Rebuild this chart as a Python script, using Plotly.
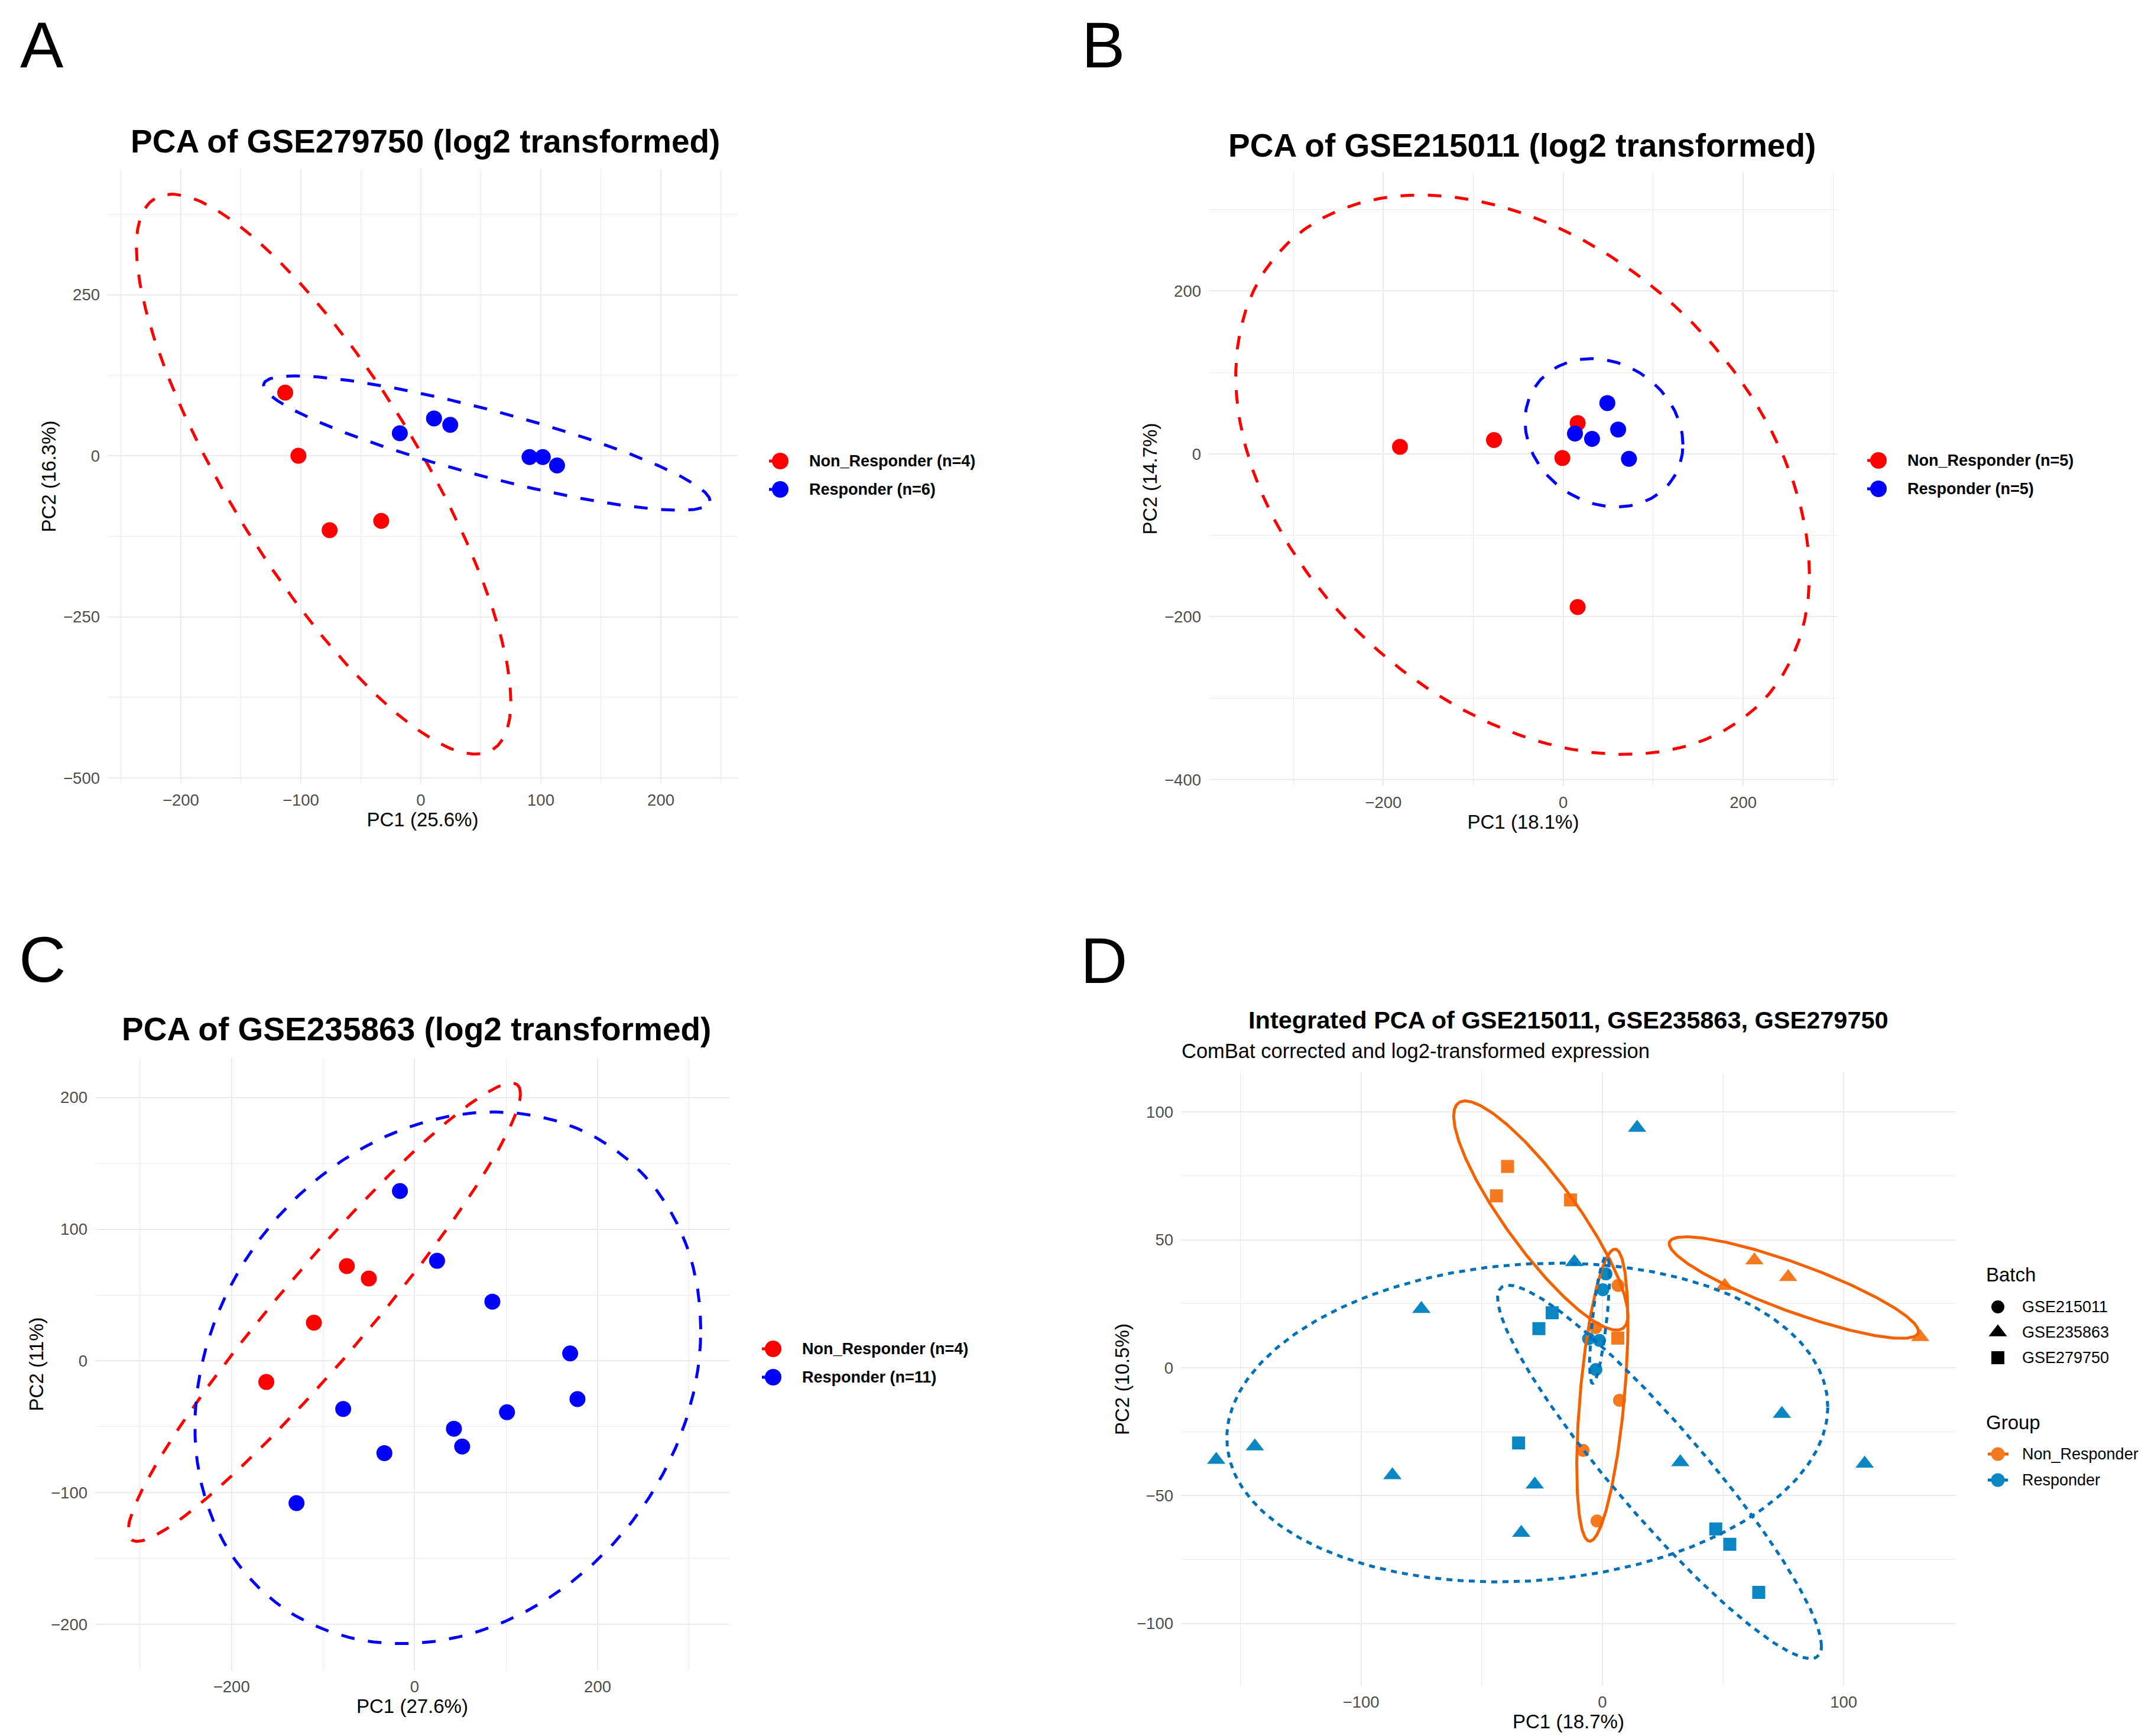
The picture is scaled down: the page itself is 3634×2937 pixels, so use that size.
import numpy as np
import plotly.graph_objects as go

W, H = 3634, 2937
FONT = "Liberation Sans"
GRID = "#EBEBEB"

# ---------------- Panel A : GSE279750 ----------------
a_title = "PCA of GSE279750 (log2 transformed)"
a_xlabel = "PC1 (25.6%)"
a_ylabel = "PC2 (16.3%)"
a_labels = ["Non_Responder (n=4)", "Responder (n=6)"]
a_nr_pc1 = [-113, -102, -76, -33]
a_nr_pc2 = [98, 0, -115.5, -101]
a_r_pc1 = [-17.5, 11, 24.5, 90.6, 101.6, 113.5]
a_r_pc2 = [35, 58, 48, -2, -2, -15]
# ellipse extents: xmin, xmax, ymin, ymax, y at xmax
a_nr_ell = [-237, 75, -463, 406, -381]
a_r_ell = [-131, 241, -84.5, 124, -70]

# ---------------- Panel B : GSE215011 ----------------
b_title = "PCA of GSE215011 (log2 transformed)"
b_xlabel = "PC1 (18.1%)"
b_ylabel = "PC2 (14.7%)"
b_labels = ["Non_Responder (n=5)", "Responder (n=5)"]
b_nr_pc1 = [-181.5, -77, -1, 16, 16]
b_nr_pc2 = [8.7, 17, -5, 38, -188]
b_r_pc1 = [49, 61, 13, 32, 73]
b_r_pc2 = [62.5, 30, 25, 18.5, -6]
b_nr_ell = [-364, 273.6, -369, 318, -147.5]
b_r_ell = [-42.5, 133, -65, 117, 11.6]

# ---------------- Panel C : GSE235863 ----------------
c_title = "PCA of GSE235863 (log2 transformed)"
c_xlabel = "PC1 (27.6%)"
c_ylabel = "PC2 (11%)"
c_labels = ["Non_Responder (n=4)", "Responder (n=11)"]
c_nr_pc1 = [-74, -50, -110, -162]
c_nr_pc2 = [72, 62.6, 29, -16]
c_r_pc1 = [-16, 24.6, 85, 170, 178, 101, 43, 52, -33, -78, -129]
c_r_pc2 = [129, 76, 45, 5.7, -29, -39, -51.5, -65, -70, -36.5, -108]
c_nr_ell = [-313, 115.7, -137, 211, 203]
c_r_ell = [-240, 312.7, -214.7, 189, 24]

# ---------------- Panel D : integrated ----------------
d_title = "Integrated PCA of GSE215011, GSE235863, GSE279750"
d_subtitle = "ComBat corrected and log2-transformed expression"
d_xlabel = "PC1 (18.7%)"
d_ylabel = "PC2 (10.5%)"
d_batches = ["GSE215011", "GSE235863", "GSE279750"]
d_groups = ["Non_Responder", "Responder"]
d_nr_215011_pc1 = [6.5, -2.8, 7.1, -8.0, -2.2]
d_nr_215011_pc2 = [32.2, 15.7, -12.7, -32.3, -59.9]
d_r_215011_pc1 = [1.5, 0.2, -5.7, -1.2, -2.7]
d_r_215011_pc2 = [36.7, 30.5, 11.4, 10.7, -0.7]
d_nr_235863_pc1 = [50.7, 63, 77, 131.7]
d_nr_235863_pc2 = [32, 42, 35.5, 12]
d_r_235863_pc1 = [14.4, -11.6, -75, -144, -160, -87, -28, -33.6, 32.3, 74.4, 108.7]
d_r_235863_pc2 = [93.8, 41.3, 23, -30.7, -36, -42, -45.6, -64.5, -36.9, -18, -37.5]
d_nr_279750_pc1 = [-39.3, -43.9, -13.2, 6.4]
d_nr_279750_pc2 = [78.7, 67.2, 65.6, 11.6]
d_r_279750_pc1 = [-20.8, -26.3, -34.7, 47, 52.8, 64.8]
d_r_279750_pc2 = [21.5, 15.3, -29.4, -63, -69, -87.8]
d_nr_215011_ell = [-10.6, 10.6, -67.8, 46.4, 17.4]
d_r_215011_ell = [-5.3, 3.0, -6.1, 43.7, 36]
d_nr_235863_ell = [27.7, 131, 11.5, 51.2, 14.2]
d_r_235863_ell = [-155.6, 93.4, -83.7, 40.9, -15.3]
d_nr_279750_ell = [-61.6, 10.6, 14.7, 104.3, 20.6]
d_r_279750_ell = [-43.4, 90.8, -113.7, 32.3, -108.7]

# ---------------- styles ----------------
RED, BLUE = "#FF0000", "#0000FF"
OR_LINE, OR_PT = "#F46200", "#F57A1F"
BL_LINE, BL_PT = "#0071B9", "#0A87C2"
DASH_ABC = "23px,23px"
DOT_D = "10px,9px"
SYMBOLS = ["circle", "triangle-up", "square"]
SYM_SIZE = [22, 27, 22]


def px_x(p):
    return p / W


def px_y(p):
    return 1 - p / H


def ellipse(ext, n=361):
    xmin, xmax, ymin, ymax, yx = ext
    cx, rx = (xmin + xmax) / 2, (xmax - xmin) / 2
    cy, ry = (ymin + ymax) / 2, (ymax - ymin) / 2
    phi = np.arccos(np.clip((yx - cy) / ry, -1, 1))
    t = np.linspace(0, 2 * np.pi, n)
    return cx + rx * np.cos(t), cy + ry * np.cos(t - phi)


fig = go.Figure()


def add_simple(k, nr_x, nr_y, r_x, r_y, nr_ell, r_ell):
    xa, ya = ("x", "y") if k == 1 else (f"x{k}", f"y{k}")
    for xs, ys, col in [(nr_x, nr_y, RED), (r_x, r_y, BLUE)]:
        fig.add_trace(go.Scatter(x=xs, y=ys, mode="markers", xaxis=xa, yaxis=ya,
                                 marker=dict(color=col, size=27, line=dict(width=0)),
                                 showlegend=False, hoverinfo="skip"))
    for ext, col in [(nr_ell, RED), (r_ell, BLUE)]:
        ex, ey = ellipse(ext)
        fig.add_trace(go.Scatter(x=ex, y=ey, mode="lines", xaxis=xa, yaxis=ya,
                                 line=dict(color=col, width=5, dash=DASH_ABC),
                                 showlegend=False, hoverinfo="skip"))


add_simple(1, a_nr_pc1, a_nr_pc2, a_r_pc1, a_r_pc2, a_nr_ell, a_r_ell)
add_simple(2, b_nr_pc1, b_nr_pc2, b_r_pc1, b_r_pc2, b_nr_ell, b_r_ell)
add_simple(3, c_nr_pc1, c_nr_pc2, c_r_pc1, c_r_pc2, c_nr_ell, c_r_ell)

# Panel D points
d_pts = [
    (d_nr_215011_pc1, d_nr_215011_pc2, 0, OR_PT),
    (d_r_215011_pc1, d_r_215011_pc2, 0, BL_PT),
    (d_nr_235863_pc1, d_nr_235863_pc2, 1, OR_PT),
    (d_r_235863_pc1, d_r_235863_pc2, 1, BL_PT),
    (d_nr_279750_pc1, d_nr_279750_pc2, 2, OR_PT),
    (d_r_279750_pc1, d_r_279750_pc2, 2, BL_PT),
]
for xs, ys, bi, col in d_pts:
    fig.add_trace(go.Scatter(x=xs, y=ys, mode="markers", xaxis="x4", yaxis="y4",
                             marker=dict(color=col, size=SYM_SIZE[bi], symbol=SYMBOLS[bi],
                                         line=dict(width=0)),
                             showlegend=False, hoverinfo="skip"))
d_ells = [
    (d_nr_215011_ell, OR_LINE, "solid"), (d_nr_235863_ell, OR_LINE, "solid"),
    (d_nr_279750_ell, OR_LINE, "solid"), (d_r_215011_ell, BL_LINE, DOT_D),
    (d_r_235863_ell, BL_LINE, DOT_D), (d_r_279750_ell, BL_LINE, DOT_D),
]
for ext, col, dash in d_ells:
    ex, ey = ellipse(ext)
    fig.add_trace(go.Scatter(x=ex, y=ey, mode="lines", xaxis="x4", yaxis="y4",
                             line=dict(color=col, width=5, dash=dash),
                             showlegend=False, hoverinfo="skip"))

# ---------------- legends (drawn on an overlay pixel axis) ----------------
annotations = []


def ann(text, x, y, size, bold=False, xanchor="center", color="black", angle=0):
    annotations.append(dict(text=text, x=px_x(x), y=px_y(y), xref="paper", yref="paper",
                            xanchor=xanchor, yanchor="middle", showarrow=False, textangle=angle,
                            font=dict(family=FONT, size=size, color=color,
                                      weight="bold" if bold else "normal")))


def simple_legend(labels, kx, ky, step=48):
    for i, (lab, col) in enumerate(zip(labels, [RED, BLUE])):
        y = ky + i * step
        fig.add_trace(go.Scatter(x=[kx - 19, kx + 19], y=[y, y], mode="lines",
                                 xaxis="x5", yaxis="y5",
                                 line=dict(color=col, width=5, dash=DASH_ABC),
                                 showlegend=False, hoverinfo="skip"))
        fig.add_trace(go.Scatter(x=[kx], y=[y], mode="markers", xaxis="x5", yaxis="y5",
                                 marker=dict(color=col, size=28, line=dict(width=0)),
                                 showlegend=False, hoverinfo="skip"))
        ann(lab, kx + 47, y, 27, bold=True, xanchor="left")


simple_legend(a_labels, 1312, 772)
simple_legend(b_labels, 3170, 771)
simple_legend(c_labels, 1300, 2274)

# Panel D legends
ann("Batch", 3350, 2148, 33, xanchor="left")
for i, lab in enumerate(d_batches):
    y = 2203 + i * 43
    fig.add_trace(go.Scatter(x=[3372], y=[y], mode="markers", xaxis="x5", yaxis="y5",
                             marker=dict(color="black", size=SYM_SIZE[i], symbol=SYMBOLS[i],
                                         line=dict(width=0)),
                             showlegend=False, hoverinfo="skip"))
    ann(lab, 3411, y, 27, xanchor="left")
ann("Group", 3350, 2398, 33, xanchor="left")
for i, (lab, lc, pc, dash) in enumerate(zip(d_groups, [OR_LINE, BL_LINE], [OR_PT, BL_PT],
                                          ["solid", "6px,22px"])):
    y = 2452 + i * 44
    fig.add_trace(go.Scatter(x=[3355, 3390], y=[y, y], mode="lines", xaxis="x5", yaxis="y5",
                             line=dict(color=lc, width=5, dash=dash),
                             showlegend=False, hoverinfo="skip"))
    fig.add_trace(go.Scatter(x=[3372], y=[y], mode="markers", xaxis="x5", yaxis="y5",
                             marker=dict(color=pc, size=23, line=dict(width=0)),
                             showlegend=False, hoverinfo="skip"))
    ann(lab, 3411, y, 27, xanchor="left")

# ---------------- titles and panel letters ----------------
ann(a_title, 711, 231, 55, bold=True)
ann(b_title, 2567, 238, 55, bold=True)
ann(c_title, 696, 1733, 55, bold=True)
ann(d_title, 2645, 1717, 41.5, bold=True)
ann(d_subtitle, 1989, 1770, 34.5, xanchor="left")
for letter, x, y in [("A", 24, 67.5), ("B", 1820, 67.5), ("C", 22, 1614), ("D", 1818, 1616)]:
    ann(letter, x, y, 110, xanchor="left")


# ---------------- axes ----------------
def axis(lo, hi, rng, dtick, minor, title, is_x, anchor):
    dom = [px_x(lo), px_x(hi)] if is_x else [px_y(hi), px_y(lo)]
    return dict(domain=dom, range=rng, anchor=anchor, tick0=0, dtick=dtick,
                showgrid=True, gridcolor=GRID, gridwidth=2.2,
                minor=dict(tick0=0, dtick=minor, showgrid=True, gridcolor=GRID, gridwidth=1.1),
                zeroline=False, showline=False, ticks="", ticklen=0,
                ticklabelstandoff=8 if is_x else 12,
                tickfont=dict(family=FONT, size=27.5, color="#4D4D4D"),
                title=dict(text=title, font=dict(family=FONT, size=33, color="black"),
                           standoff=2),
                automargin=False, fixedrange=True)


layout = dict(
    width=W, height=H, margin=dict(l=0, r=0, t=0, b=0, pad=0),
    paper_bgcolor="white", plot_bgcolor="rgba(0,0,0,0)", showlegend=False,
    font=dict(family=FONT),
    xaxis=axis(174, 1240, [-261, 264], 100, 50, a_xlabel, True, "y"),
    yaxis=axis(278, 1318, [-509, 445], 250, 125, a_ylabel, False, "x"),
    xaxis2=axis(2037, 3101, [-394, 305], 200, 100, b_xlabel, True, "y2"),
    yaxis2=axis(282, 1322, [-408, 347], 200, 100, b_ylabel, False, "x2"),
    xaxis3=axis(153, 1226, [-349, 344], 200, 100, c_xlabel, True, "y3"),
    yaxis3=axis(1782, 2818, [-235, 230], 100, 50, c_ylabel, False, "x3"),
    xaxis4=axis(1990, 3301, [-174.6, 146.5], 100, 50, d_xlabel, True, "y4"),
    yaxis4=axis(1807, 2844, [-124.3, 115.3], 50, 25, d_ylabel, False, "x4"),
    xaxis5=dict(domain=[0, 1], range=[0, W], anchor="y5", visible=False, fixedrange=True),
    yaxis5=dict(domain=[0, 1], range=[H, 0], anchor="x5", visible=False, fixedrange=True),
    annotations=annotations,
)
fig.update_layout(**layout)
fig.write_html("out.html", config={"displayModeBar": False})
